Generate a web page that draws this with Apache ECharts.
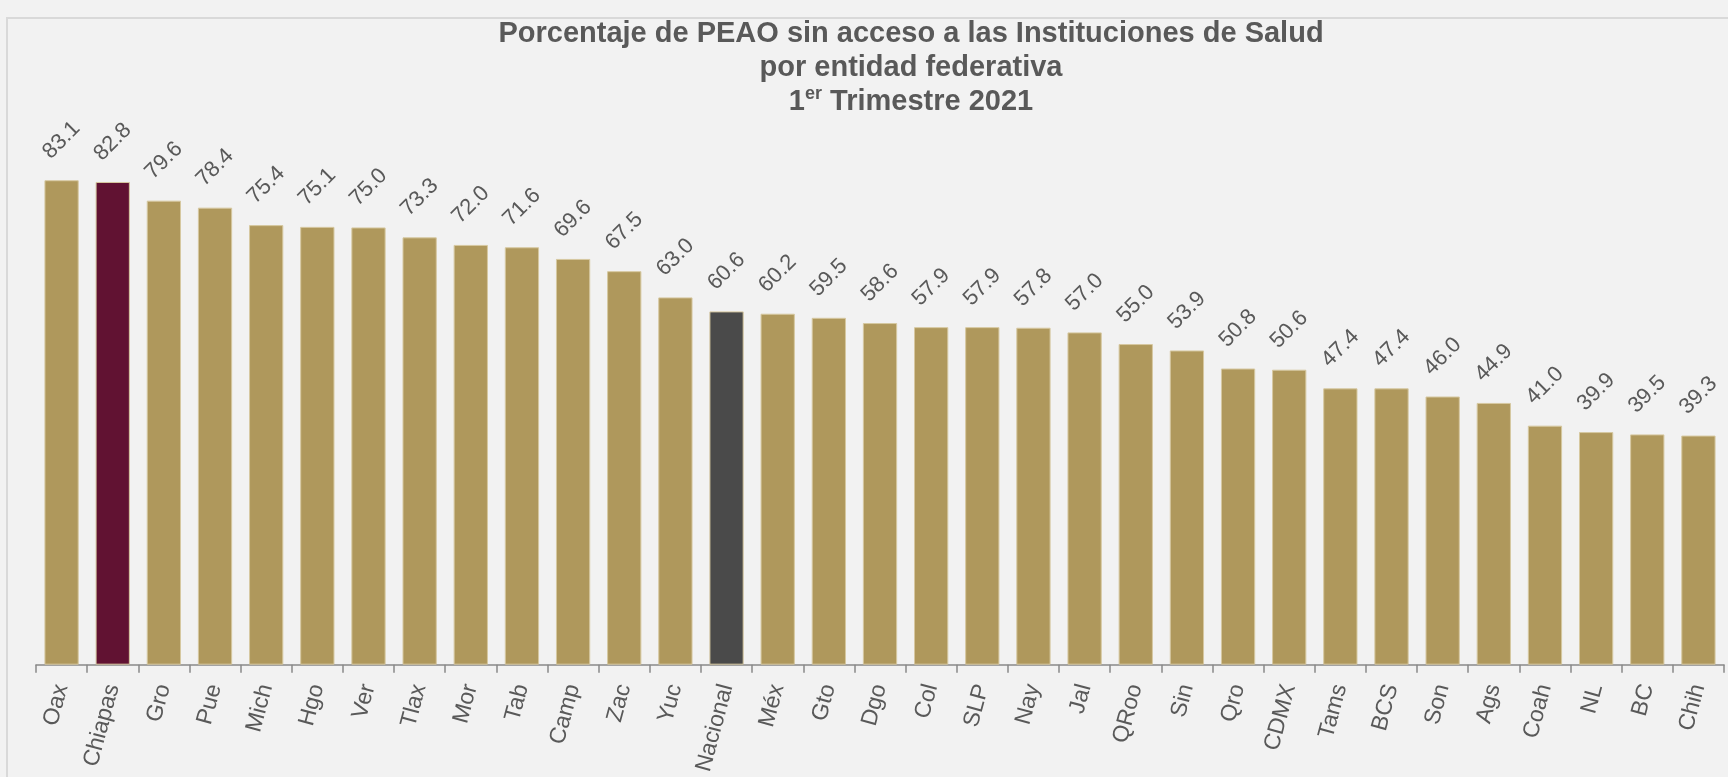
<!DOCTYPE html>
<html>
<head>
<meta charset="utf-8">
<script src="https://cdn.jsdelivr.net/npm/echarts@6/dist/echarts.min.js"></script>
<style>
  html, body { margin: 0; padding: 0; background: #f2f2f2; }
  #chart { width: 1728px; height: 777px; }
</style>
</head>
<body>
<div id="chart"></div>
<script>
const estados = ['Oax', 'Chiapas', 'Gro', 'Pue', 'Mich', 'Hgo', 'Ver', 'Tlax', 'Mor', 'Tab', 'Camp',
    'Zac', 'Yuc', 'Nacional', 'Méx', 'Gto', 'Dgo', 'Col', 'SLP', 'Nay', 'Jal', 'QRoo', 'Sin', 'Qro',
    'CDMX', 'Tams', 'BCS', 'Son', 'Ags', 'Coah', 'NL', 'BC', 'Chih'];
const porcentajes = [83.1, 82.8, 79.6, 78.4, 75.4, 75.1, 75.0, 73.3, 72.0, 71.6, 69.6,
    67.5, 63.0, 60.6, 60.2, 59.5, 58.6, 57.9, 57.9, 57.8, 57.0, 55.0, 53.9, 50.8,
    50.6, 47.4, 47.4, 46.0, 44.9, 41.0, 39.9, 39.5, 39.3];

// colores por barra
const colorBase = '#af985c';
const destacados = {
    'Chiapas': '#611232',
    'Nacional': '#4a4a4a'
};

const fuente = 'Liberation Sans, Arial, sans-serif';
const chart = echarts.init(document.getElementById('chart'));

const option = {
    backgroundColor: '#f2f2f2',
    animation: false,
    graphic: [
        {
            type: 'rect',
            shape: {x: 7, y: 18, width: 1800, height: 1000},
            style: {fill: 'none', stroke: '#d9d9d9', lineWidth: 2},
            silent: true
        }
    ],
    title: {
        text: 'Porcentaje de PEAO sin acceso a las Instituciones de Salud\npor entidad federativa\n{n|1}{sup|er}{n| Trimestre 2021}',
        left: 906,
        top: 12,
        textAlign: 'center',
        textStyle: {
            fontFamily: fuente,
            fontSize: 29,
            fontWeight: 'bold',
            color: '#595959',
            lineHeight: 34,
            rich: {
                n: {fontSize: 29, fontWeight: 'bold', color: '#595959', fontFamily: fuente, lineHeight: 34},
                sup: {fontSize: 18, fontWeight: 'bold', color: '#595959', fontFamily: fuente, verticalAlign: 'top', padding: [0, 0, 12, 0], lineHeight: 34}
            }
        }
    },
    grid: {
        left: 36,
        right: 4,
        top: 140,
        bottom: 110
    },
    xAxis: {
        type: 'category',
        data: estados,
        axisLine: {lineStyle: {color: '#898989', width: 1.5}},
        axisTick: {show: true, length: 8, lineStyle: {color: '#898989', width: 1.5}},
        axisLabel: {
            interval: 0,
            rotate: 75,
            margin: 20,
            color: '#595959',
            fontSize: 23,
            fontFamily: fuente
        }
    },
    yAxis: {
        type: 'value',
        min: 0,
        max: 90,
        show: false,
        splitLine: {show: false}
    },
    series: [
        {
            type: 'bar',
            data: porcentajes.map((v, i) => ({
                value: v,
                itemStyle: {color: destacados[estados[i]] || colorBase}
            })),
            barCategoryGap: '33%',
            itemStyle: {
                borderColor: '#d6c8a0',
                borderWidth: 1
            },
            label: {
                show: true,
                position: 'top',
                distance: 40,
                rotate: 45,
                align: 'center',
                verticalAlign: 'middle',
                color: '#595959',
                fontSize: 22,
                fontFamily: fuente,
                formatter: p => p.value.toFixed(1)
            }
        }
    ]
};

chart.setOption(option);
</script>
</body>
</html>
